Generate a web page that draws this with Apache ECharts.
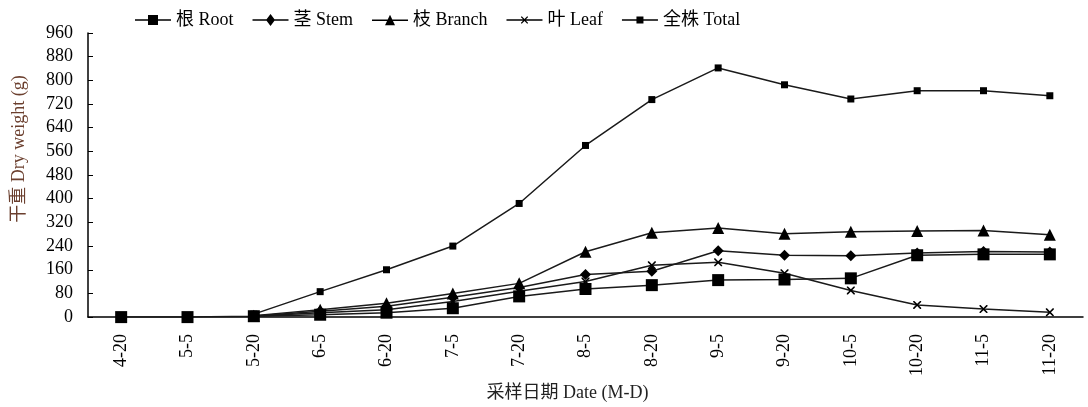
<!DOCTYPE html>
<html>
<head>
<meta charset="utf-8">
<script src="https://cdn.jsdelivr.net/npm/echarts@6/dist/echarts.min.js"></script>
<style>
  html, body { margin: 0; padding: 0; background: #fff; }
  #chart { width: 1088px; height: 407px; }
</style>
</head>
<body>
<div id="chart"></div>
<script>
// 采样日期
const dates = ['4-20', '5-5', '5-20', '6-5', '6-20', '7-5', '7-20', '8-5', '8-20', '9-5', '9-20', '10-5', '10-20', '11-5', '11-20']

// 干重 (g)
const rootData = [0, 0, 3, 8, 15, 30, 70, 95, 108, 125, 127, 131, 209, 212, 212]
const stemData = [null, null, 4, 20, 37, 67, 100, 144, 155, 224, 209, 207, 217, 222, 220]
const branchData = [null, null, 5, 25, 47, 80, 114, 221, 285, 301, 282, 288, 291, 293, 278]
const leafData = [null, null, 3, 15, 25, 53, 87, 120, 175, 185, 148, 90, 41, 27, 16]
const totalData = [null, null, 10, 86, 160, 240, 384, 580, 735, 842, 785, 737, 765, 765, 748]

const serif = '"Liberation Serif", "Noto Sans CJK SC", serif'
const crossPath = 'path://M0,0L1.4,0L5,3.6L8.6,0L10,0L10,1.4L6.4,5L10,8.6L10,10L8.6,10L5,6.4L1.4,10L0,10L0,8.6L3.6,5L0,1.4Z'

// 图例图标：线 + 标记
const lineBar = (cy) => `M0,${cy - 0.75}L36,${cy - 0.75}L36,${cy + 0.75}L0,${cy + 0.75}Z`
const legendIcons = {
  '根 Root': 'path://' + lineBar(6) + 'M13,1L23,1L23,11L13,11Z',
  '茎 Stem': 'path://' + lineBar(6) + 'M18,0L22.5,6L18,12L13.5,6Z',
  '枝 Branch': 'path://' + lineBar(6) + 'M18,0.5L23,11L13,11Z',
  '叶 Leaf': 'path://' + lineBar(4) + 'M14.5,0.5L15.5,0.5L18,3L20.5,0.5L21.5,0.5L21.5,1.2L18.7,4L21.5,6.8L21.5,7.5L20.5,7.5L18,5L15.5,7.5L14.5,7.5L14.5,6.8L17.3,4L14.5,1.2Z',
  '全株 Total': 'path://' + lineBar(3.5) + 'M14.5,0L21.5,0L21.5,7L14.5,7Z'
}

const chart = echarts.init(document.getElementById('chart'))

const makeSeries = (name, data, symbol, size) => ({
  name: name,
  type: 'line',
  data: data,
  symbol: symbol,
  symbolSize: size,
  showAllSymbol: true,
  connectNulls: false,
  lineStyle: { color: '#1a1a1a', width: 1.5 },
  itemStyle: { color: '#000', borderColor: '#000', borderWidth: 0 },
  emphasis: { disabled: true }
})

const option = {
  animation: false,
  backgroundColor: '#fff',
  legend: {
    left: 130,
    top: 6,
    itemWidth: 36,
    itemHeight: 12,
    itemGap: 19,
    textStyle: { fontFamily: serif, fontSize: 18, color: '#000' },
    itemStyle: { color: '#000' },
    data: Object.keys(legendIcons).map(name => ({ name: name, icon: legendIcons[name] }))
  },
  grid: {
    left: 88,
    right: 5,
    top: 33,
    bottom: 88
  },
  xAxis: {
    type: 'category',
    data: dates,
    boundaryGap: true,
    name: '采样日期 Date (M-D)',
    nameLocation: 'middle',
    nameGap: 66,
    nameTextStyle: { fontFamily: serif, fontSize: 18, color: '#222', padding: [0, 36, 0, 0] },
    axisLine: { lineStyle: { color: '#000', width: 1.5 } },
    axisTick: { inside: true, length: 5, lineStyle: { color: '#000' } },
    axisLabel: { rotate: 90, fontFamily: serif, fontSize: 18, color: '#000', margin: 17 },
    splitLine: { show: false }
  },
  yAxis: {
    type: 'value',
    min: 0,
    max: 960,
    interval: 80,
    name: '干重 Dry weight (g)',
    nameLocation: 'middle',
    nameGap: 60,
    nameTextStyle: { fontFamily: serif, fontSize: 18, color: '#6b3f2e', padding: [0, 0, 0, 52] },
    axisLine: { show: true, lineStyle: { color: '#000', width: 1.5 } },
    axisTick: { show: true, inside: true, length: 5, lineStyle: { color: '#000' } },
    axisLabel: { fontFamily: serif, fontSize: 18, color: '#000', margin: 15 },
    splitLine: { show: false }
  },
  series: [
    makeSeries('全株 Total', totalData, 'rect', 7),
    makeSeries('叶 Leaf', leafData, crossPath, 8),
    makeSeries('枝 Branch', branchData, 'triangle', 12),
    makeSeries('茎 Stem', stemData, 'diamond', 11),
    makeSeries('根 Root', rootData, 'rect', 12)
  ]
}

chart.setOption(option)
</script>
</body>
</html>
